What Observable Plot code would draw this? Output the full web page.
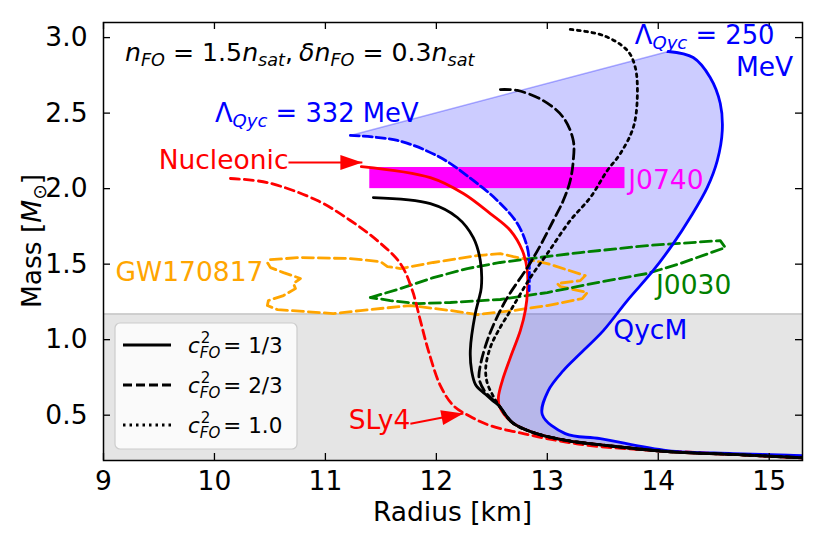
<!DOCTYPE html>
<html><head><meta charset="utf-8">
<script src="https://cdn.jsdelivr.net/npm/d3@7"></script>
<script src="https://cdn.jsdelivr.net/npm/@observablehq/plot@0.6"></script>
<style>body{margin:0;background:#fff} svg{display:block} text{white-space:pre}</style>
</head><body><div id="chart"></div>
<script>
// ---------- data ----------
const xDomain = [9, 15.3];
const yDomain = [0.2, 3.1];
const xTicks = [9, 10, 11, 12, 13, 14, 15];
const yTicks = [0.5, 1.0, 1.5, 2.0, 2.5, 3.0];
const bandTop = 1.17;

const commonTail = [[12.568,0.560],[12.685,0.451],[12.874,0.385],[13.180,0.332],[13.541,0.299],[14.081,0.259],[14.676,0.240],[15.30,0.218]];
const nucleonic = [[11.324,2.146],[11.946,2.073],[12.243,1.968],[12.486,1.835],[12.667,1.723],[12.775,1.590],[12.820,1.458],[12.822,1.330],[12.802,1.193],[12.757,1.060],[12.667,0.881],[12.595,0.729],[12.559,0.617]];
const cs13 = [[11.432,1.941],[11.946,1.901],[12.189,1.809],[12.333,1.676],[12.396,1.524],[12.405,1.345],[12.380,1.260],[12.351,1.173],[12.306,0.928],[12.318,0.795],[12.355,0.700],[12.440,0.640],[12.510,0.595]];
const cs23 = [[12.577,2.656],[12.730,2.650],[12.964,2.583],[13.144,2.471],[13.234,2.319],[13.234,2.186],[13.207,2.054],[13.144,1.921],[13.054,1.789],[12.937,1.623],[12.820,1.477],[12.640,1.279],[12.532,1.126],[12.459,0.994],[12.400,0.842],[12.385,0.745],[12.430,0.665],[12.505,0.605]];
const cs10 = [[13.207,3.054],[13.505,3.014],[13.721,2.915],[13.793,2.802],[13.811,2.603],[13.775,2.405],[13.658,2.232],[13.541,2.120],[13.387,1.941],[13.207,1.789],[13.000,1.570],[12.847,1.411],[12.685,1.213],[12.559,1.060],[12.486,0.948],[12.445,0.815],[12.458,0.715],[12.510,0.630]];
const sly4 = [[10.144,2.067],[10.477,2.040],[10.928,1.921],[11.225,1.789],[11.468,1.656],[11.676,1.504],[11.784,1.325],[11.856,1.126],[11.928,0.928],[12.036,0.696],[12.153,0.564],[12.306,0.491],[12.486,0.431],[12.784,0.378],[13.090,0.332],[13.387,0.299],[13.838,0.272],[14.378,0.252],[15.30,0.217]];
const qyc332 = [[11.225,2.352],[11.649,2.319],[12.036,2.206],[12.333,2.054],[12.550,1.921],[12.730,1.769],[12.820,1.610],[12.838,1.477],[12.836,1.325],[12.800,1.173],[12.712,0.994],[12.631,0.828],[12.586,0.696]];
const qyc250 = [[14.090,2.908],[14.315,2.868],[14.468,2.736],[14.559,2.564],[14.577,2.385],[14.532,2.186],[14.441,2.007],[14.288,1.809],[14.135,1.636],[13.955,1.458],[13.721,1.259],[13.505,1.060],[13.297,0.908],[13.144,0.795],[13.009,0.663],[12.955,0.504],[13.162,0.378],[13.477,0.345],[14.081,0.266],[14.676,0.246],[15.30,0.232]];
const gw170817 = [[10.505,1.530],[10.775,1.544],[11.225,1.537],[11.495,1.517],[11.559,1.484],[11.676,1.471],[11.973,1.511],[12.369,1.557],[12.577,1.570],[12.694,1.550],[13.000,1.504],[13.342,1.424],[13.297,1.391],[13.090,1.372],[13.117,1.352],[13.360,1.312],[13.315,1.272],[13.000,1.226],[12.694,1.193],[12.369,1.166],[12.126,1.193],[11.766,1.226],[11.315,1.193],[11.072,1.173],[10.568,1.199],[10.477,1.226],[10.486,1.259],[10.622,1.292],[10.730,1.338],[10.712,1.372],[10.775,1.405],[10.622,1.444],[10.505,1.477],[10.477,1.510],[10.505,1.530]];
const j0030 = [[11.405,1.279],[11.676,1.338],[11.973,1.411],[12.279,1.471],[12.577,1.511],[12.847,1.537],[13.297,1.577],[13.901,1.623],[14.559,1.656],[14.604,1.610],[14.198,1.504],[13.901,1.438],[13.450,1.378],[13.000,1.312],[12.577,1.266],[12.126,1.246],[11.829,1.239],[11.586,1.259],[11.405,1.279]];
const j0740 = [{x1: 11.4, x2: 13.7, y1: 2.0, y2: 2.14}];

const plainLabels = [
  {text: "GW170817", x: 9.108, y: 1.444, color: "#ffa500", anchor: "start"},
  {text: "J0740", x: 13.73, y: 2.054, color: "#ff00ff", anchor: "start"},
  {text: "J0030", x: 13.98, y: 1.358, color: "#008000", anchor: "start"},
  {text: "QycM", x: 13.595, y: 1.060, color: "#0000ff", anchor: "start"},
  {text: "Nucleonic", x: 10.667, y: 2.186, color: "#ff0000", anchor: "end"},
  {text: "SLy4", x: 11.766, y: 0.464, color: "#ff0000", anchor: "end"},
  {text: "MeV", x: 15.216, y: 2.800, color: "#0000ff", anchor: "end"}
];
const arrows = [
  {x1: 10.667, y1: 2.173, x2: 11.333, y2: 2.173},
  {x1: 11.766, y1: 0.444, x2: 12.243, y2: 0.511}
];
const legendItems = [
  {label: "1/3", dash: null},
  {label: "2/3", dash: "9,4"},
  {label: "1.0", dash: "2.5,4"}
];

// ---------- layout ----------
const W = 822, H = 548, mL = 103, mR = 20, mT = 22, mB = 88;
const innerW = W - mL - mR, innerH = H - mT - mB;
const FS = 26.5, LW = 2.8;
const sx = d3.scaleLinear(xDomain, [mL, W - mR]);
const sy = d3.scaleLinear(yDomain, [H - mB, mT]);
arrows.forEach(a => {
  const dx = sx(a.x2) - sx(a.x1), dy = sy(a.y2) - sy(a.y1);
  a.angle = Math.atan2(dx, -dy) * 180 / Math.PI;
});

const head = {draw(ctx) { ctx.moveTo(0, 0); ctx.lineTo(-7.5, 22); ctx.lineTo(7.5, 22); ctx.closePath(); }};

const tail = d => d.concat(commonTail);
const px = d => d[0], py = d => d[1];
const fillPoly = qyc250.concat(tail(qyc332).slice().reverse());

const plot = Plot.plot({
  width: W, height: H,
  marginLeft: mL, marginRight: mR, marginTop: mT, marginBottom: mB,
  x: {domain: xDomain}, y: {domain: yDomain},
  style: {fontFamily: "DejaVu Sans", fontSize: FS + "px", background: "white", color: "black"},
  marks: [
    Plot.rect([0], {x1: xDomain[0], x2: xDomain[1], y1: yDomain[0], y2: bandTop, fill: "#e5e5e5"}),
    Plot.ruleY([bandTop], {stroke: "#c4c4c4", strokeWidth: 1.5}),
    Plot.line(fillPoly, {x: px, y: py, fill: "#0000ff", fillOpacity: 0.2, stroke: "none", curve: "catmull-rom"}),
    Plot.line([qyc250[0], qyc332[0]], {x: px, y: py, stroke: "#0000ff", strokeOpacity: 0.3, strokeWidth: 1.5}),
    Plot.rect(j0740, {x1: "x1", x2: "x2", y1: "y1", y2: "y2", fill: "#ff00ff"}),
    Plot.line(gw170817, {x: px, y: py, stroke: "#ffa500", strokeWidth: LW, strokeDasharray: "11,5"}),
    Plot.line(j0030, {x: px, y: py, stroke: "#008000", strokeWidth: LW, strokeDasharray: "11,5"}),
    Plot.line(sly4, {x: px, y: py, stroke: "#ff0000", strokeWidth: LW, strokeDasharray: "9,5", curve: "catmull-rom", clip: true}),
    Plot.line(tail(nucleonic), {x: px, y: py, stroke: "#ff0000", strokeWidth: LW, curve: "catmull-rom", clip: true}),
    Plot.line(qyc332.filter(d => d[1] >= 1.25), {x: px, y: py, stroke: "#0000ff", strokeWidth: LW, strokeDasharray: "9,4", curve: "catmull-rom"}),
    Plot.line(qyc250, {x: px, y: py, stroke: "#0000ff", strokeWidth: LW, curve: "catmull-rom", clip: true}),
    Plot.line(tail(cs23), {x: px, y: py, stroke: "black", strokeWidth: LW, strokeDasharray: "10,5", curve: "catmull-rom", clip: true}),
    Plot.line(tail(cs10), {x: px, y: py, stroke: "black", strokeWidth: LW, strokeDasharray: "2.8,4.5", curve: "catmull-rom", clip: true}),
    Plot.line(tail(cs13), {x: px, y: py, stroke: "black", strokeWidth: LW, curve: "catmull-rom", clip: true}),
    Plot.link(arrows, {x1: "x1", y1: "y1", x2: "x2", y2: "y2", stroke: "#ff0000", strokeWidth: 2}),
    Plot.dot(arrows, {x: "x2", y: "y2", rotate: "angle", symbol: head, fill: "#ff0000", stroke: "none"}),
    Plot.text(plainLabels.filter(d => d.anchor === "start"), {x: "x", y: "y", text: "text", fill: d => d.color, textAnchor: "start", lineAnchor: "middle", fontSize: FS}),
    Plot.text(plainLabels.filter(d => d.anchor === "end"), {x: "x", y: "y", text: "text", fill: d => d.color, textAnchor: "end", lineAnchor: "middle", fontSize: FS}),
    Plot.ruleX(xTicks, {insetTop: innerH - 7, stroke: "black", strokeWidth: 1.3}),
    Plot.ruleX(xTicks, {insetBottom: innerH - 7, stroke: "black", strokeWidth: 1.3}),
    Plot.ruleY(yTicks, {insetRight: innerW - 7, stroke: "black", strokeWidth: 1.3}),
    Plot.ruleY(yTicks, {insetLeft: innerW - 7, stroke: "black", strokeWidth: 1.3}),
    Plot.axisX(xTicks, {tickSize: 0, tickPadding: 11, label: null, fontSize: FS}),
    Plot.axisY(yTicks, {tickSize: 0, tickPadding: 16, label: null, fontSize: FS, tickFormat: d => d.toFixed(1)}),
    Plot.frame({stroke: "black", strokeWidth: 1.5})
  ]
});
document.getElementById("chart").appendChild(plot);

// ---------- math-style texts ----------
const svg = d3.select(plot);
const X = v => plot.scale("x").apply(v), Y = v => plot.scale("y").apply(v);
const g = svg.append("g").attr("font-family", "DejaVu Sans").attr("text-anchor", "start");

function mathText(parent, x, y, parts, size, fill, anchor = "start") {
  const t = parent.append("text").attr("x", x).attr("y", y).attr("font-size", size)
    .attr("fill", fill).attr("text-anchor", anchor);
  let shift = 0;
  for (const [txt, st, dxv] of parts) {
    let target = 0, fs = size;
    if (st.includes("b")) { target = 0.2 * size; fs = 0.7 * size; }
    if (st.includes("p")) { target = -0.42 * size; fs = 0.7 * size; }
    const ts = t.append("tspan").text(txt).attr("font-size", fs).attr("dy", target - shift);
    if (dxv) ts.attr("dx", dxv);
    if (st.includes("i")) ts.attr("font-style", "italic");
    shift = target;
  }
  return t;
}

// title
mathText(g, X(9.198), 61, [["n","i"],["FO","ib"],[" = 1.5",""],["n","i"],["sat","ib"],[",",""],["δ","i",6],["n","i"],["FO","ib"],[" = 0.3",""],["n","i"],["sat","ib"]], 25.2, "black");
// Lambda labels
mathText(g, X(10.009), Y(2.497) + 9, [["Λ",""],["Qyc","ib"],[" = 332 MeV",""]], 25.8, "#0000ff");
mathText(g, X(13.793), Y(3.014) + 9, [["Λ",""],["Qyc","ib"],[" = 250",""]], 25.8, "#0000ff");

// axis titles
g.append("text").attr("x", (mL + W - mR) / 2).attr("y", 521).attr("text-anchor", "middle")
  .attr("font-size", FS).text("Radius [km]");
const yl = mathText(g, 0, 0, [["Mass [",""],["M","i"],["⊙","b"],["]",""]], FS, "black", "middle");
yl.attr("transform", `translate(41,${(mT + H - mB) / 2}) rotate(-90)`);

// legend
const lg = g.append("g");
const bx = mL + 12, by = H - mB - 137, bw = 182, bh = 126;
const LF = 21.5, LS = LF * 0.7;
lg.append("rect").attr("x", bx).attr("y", by).attr("width", bw).attr("height", bh).attr("rx", 5)
  .attr("fill", "white").attr("fill-opacity", 0.8).attr("stroke", "#cccccc").attr("stroke-width", 1.2);
legendItems.forEach((it, i) => {
  const ly = by + 22 + i * 40;
  lg.append("line").attr("x1", bx + 8).attr("x2", bx + 56).attr("y1", ly).attr("y2", ly)
    .attr("stroke", "black").attr("stroke-width", LW).attr("stroke-dasharray", it.dash);
  const t = lg.append("text").attr("x", bx + 73).attr("y", ly + 8).attr("font-size", LF).attr("text-anchor", "start");
  t.append("tspan").attr("font-style", "italic").text("c");
  t.append("tspan").attr("font-size", LS).attr("dy", -0.45 * LF).attr("dx", 1).text("2");
  t.append("tspan").attr("font-size", LS).attr("font-style", "italic").attr("dy", 0.68 * LF).attr("dx", -0.636 * LS - 1).text("FO");
  t.append("tspan").attr("dy", -0.23 * LF).attr("dx", 3).text("= " + it.label);
});
</script></body></html>
